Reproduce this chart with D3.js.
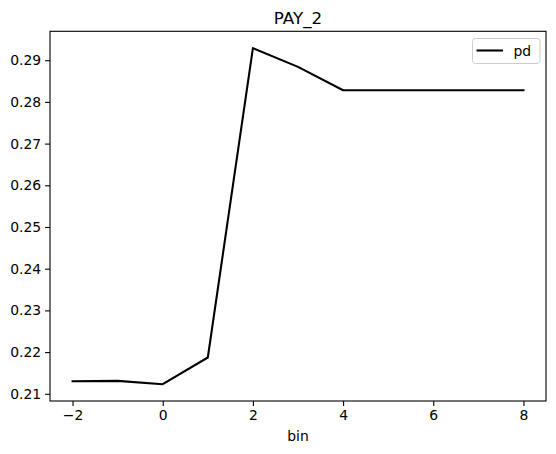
<!DOCTYPE html>
<html><head><meta charset="utf-8">
<script src="https://cdn.jsdelivr.net/npm/d3@7"></script>
<style>body{margin:0;background:#fff;} svg{display:block;font-family:"DejaVu Sans",sans-serif;}</style>
</head><body>
<script>
const bins = [-2, -1, 0, 1, 2, 3, 4, 5, 6, 7, 8];
const pd = [0.2130, 0.2131, 0.2123, 0.2187, 0.2929, 0.2884, 0.2828, 0.2828, 0.2828, 0.2828, 0.2828];
const xTicks = [-2, 0, 2, 4, 6, 8];
const yTicks = [0.21, 0.22, 0.23, 0.24, 0.25, 0.26, 0.27, 0.28, 0.29];
const title = "PAY_2";
const xLabel = "bin";
const seriesName = "pd";

const W = 556, H = 454;
const m = {left: 50, right: 546, top: 31.3, bottom: 401};
const svg = d3.select("body").append("svg").attr("width", W).attr("height", H);

const xMin = d3.min(bins), xMax = d3.max(bins), xPad = (xMax - xMin) * 0.05;
const yMin = d3.min(pd), yMax = d3.max(pd), yPad = (yMax - yMin) * 0.05;
const x = d3.scaleLinear().domain([xMin - xPad, xMax + xPad]).range([m.left, m.right]);
const y = d3.scaleLinear().domain([yMin - yPad, yMax + yPad]).range([m.bottom, m.top]);

const xAxis = svg.append("g").attr("transform", `translate(0,${m.bottom})`)
  .call(d3.axisBottom(x).tickValues(xTicks).tickSize(4.9).tickPadding(4).tickFormat(d => d < 0 ? "\u2212" + Math.abs(d) : d));
const yAxis = svg.append("g").attr("transform", `translate(${m.left},0)`)
  .call(d3.axisLeft(y).tickValues(yTicks).tickSize(4.9).tickPadding(4).tickFormat(d3.format(".2f")));
[xAxis, yAxis].forEach(g => {
  g.select(".domain").remove();
  g.selectAll("line").attr("stroke", "#000").attr("stroke-width", 1.1);
  g.selectAll("text").attr("fill", "#000").style("font-size", "13.9px").style("font-family", "DejaVu Sans");
});

svg.append("rect").attr("x", m.left).attr("y", m.top).attr("width", m.right - m.left).attr("height", m.bottom - m.top)
  .attr("fill", "none").attr("stroke", "#000").attr("stroke-width", 1.1);

const line = d3.line().x((d, i) => x(bins[i])).y(d => y(d));
svg.append("path").datum(pd).attr("d", line).attr("fill", "none").attr("stroke", "#000")
  .attr("stroke-width", 2.08).attr("stroke-linejoin", "round").attr("stroke-linecap", "square");

svg.append("text").attr("x", (m.left + m.right) / 2).attr("y", m.top - 7.5).attr("text-anchor", "middle")
  .style("font-size", "16.7px").text(title);
svg.append("text").attr("x", (m.left + m.right) / 2).attr("y", 441).attr("text-anchor", "middle")
  .style("font-size", "13.9px").text(xLabel);

const lg = svg.append("g");
lg.append("rect").attr("x", 472.5).attr("y", 38.5).attr("width", 67.5).attr("height", 25).attr("rx", 3)
  .attr("fill", "#fff").attr("fill-opacity", 0.8).attr("stroke", "#ccc").attr("stroke-width", 1);
lg.append("line").attr("x1", 476.5).attr("x2", 503).attr("y1", 50.5).attr("y2", 50.5)
  .attr("stroke", "#000").attr("stroke-width", 2.08);
lg.append("text").attr("x", 513.5).attr("y", 55.5).style("font-size", "13.9px").text(seriesName);
</script>
</body></html>
